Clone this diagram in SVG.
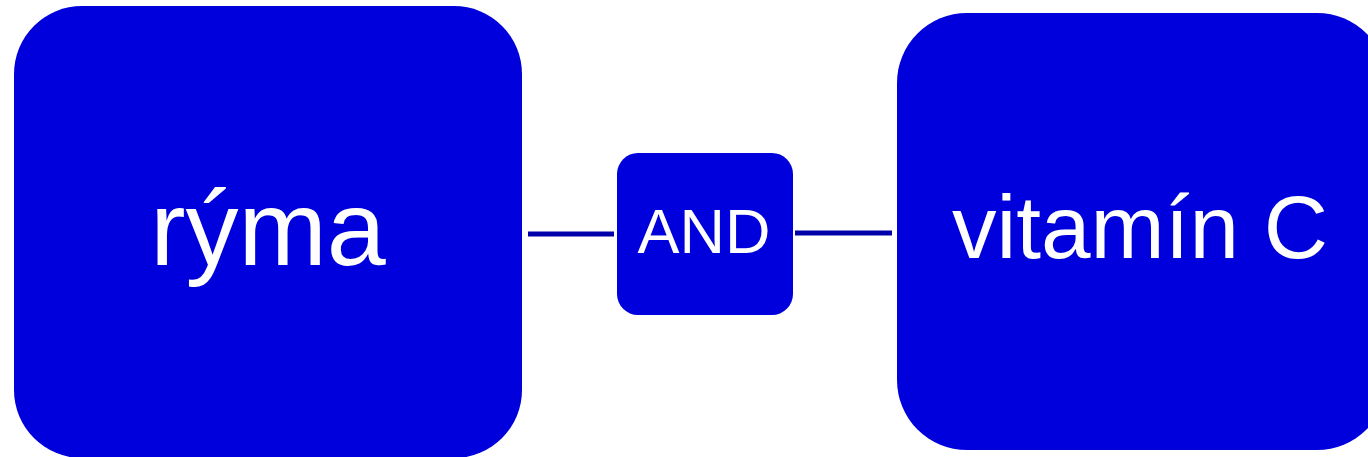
<svg xmlns="http://www.w3.org/2000/svg" width="1368" height="457" viewBox="0 0 1368 457">
<style>
.box{fill:#0000dc}
.lbl{fill:#ffffff;font-family:"Liberation Sans",Arial,sans-serif;text-anchor:middle}
.edge{stroke:#0000aa;stroke-width:5;fill:none}
</style>
<rect width="1368" height="457" fill="#ffffff"/>
<g id="connectors">
<line class="edge" x1="528" y1="234" x2="614" y2="234"/>
<line class="edge" x1="795" y1="233" x2="892" y2="233"/>
</g>
<g id="node-ryma">
<rect class="box" x="14" y="6" width="508" height="452" rx="68" ry="68"/>
<text class="lbl" x="268" y="265" font-size="106">rýma</text>
</g>
<g id="node-and">
<rect class="box" x="617" y="153" width="176" height="162" rx="21" ry="21"/>
<text class="lbl" x="704" y="253" font-size="63">AND</text>
</g>
<g id="node-vitamin">
<rect class="box" x="897" y="13" width="490" height="437" rx="70" ry="70"/>
<text class="lbl" x="1140" y="258" font-size="89">vitamín C</text>
</g>
</svg>
